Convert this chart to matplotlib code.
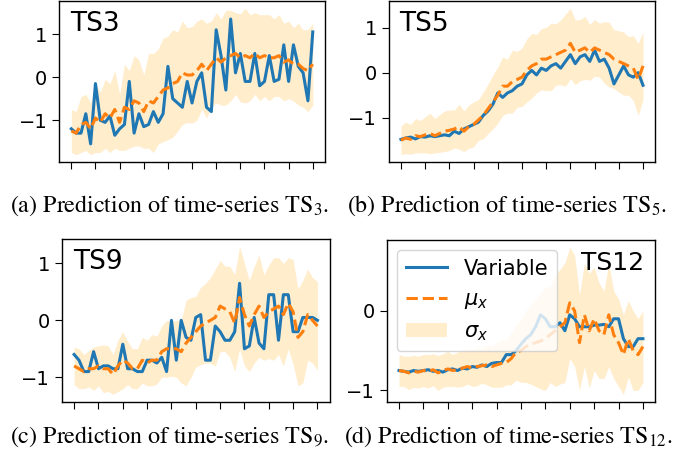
"""
plot.py
=======
Four-panel figure: predicted mean and std band against the observed
variable for four time series (TS3, TS5, TS9, TS12).
"""

import matplotlib
matplotlib.use("Agg")
import matplotlib.pyplot as plt
import numpy as np
from matplotlib.lines import Line2D
from matplotlib.patches import Patch
from matplotlib.ticker import MultipleLocator, NullFormatter

matplotlib.rcParams.update({
    "font.family": "DejaVu Sans",
    "font.size": 14,
    "axes.linewidth": 1.0,
    "xtick.major.size": 5,
    "ytick.major.size": 5,
})

VAR_COLOR = "tab:blue"
MU_COLOR = "tab:orange"
BAND_COLOR = "orange"

# ---- TS3 ----
ts3_var = [-1.2, -1.3, -1.3, -0.85, -1.55, -0.15, -1.0, -1.05, -0.9, -1.35,
           -1.2, -1.1, -0.1, -1.3, -0.85, -1.15, -1.1, -0.8, -1.05, -0.85,
           0.25, -0.5, -0.6, -0.7, -0.1, -0.6, -0.1, 0.1, -0.7, -0.8,
           1.1, 0.5, -0.3, 1.35, 0.1, 0.55, -0.1, -0.1, 0.55, -0.2,
           -0.1, 0.5, -0.1, -0.05, 0.75, -0.1, 0.75, 0.25, 0.1, -0.55, 1.05]
ts3_mu = [-1.25, -1.3, -1.1, -1.05, -1.2, -0.95, -1.05, -0.85, -0.95, -0.75,
          -1.05, -0.7, -0.75, -0.55, -0.6, -0.8, -0.55, -0.6, -0.45, -0.3,
          -0.25, -0.15, -0.1, 0.1, 0.05, 0.05, 0.15, 0.3, 0.15, 0.3,
          0.45, 0.35, 0.45, 0.5, 0.55, 0.45, 0.5, 0.45, 0.55, 0.45,
          0.5, 0.45, 0.45, 0.5, 0.35, 0.4, 0.3, 0.3, 0.2, 0.15, 0.3]
ts3_sigma = [0.5, 0.5, 0.65, 0.65, 0.6, 0.8, 0.7, 0.8, 0.8, 0.9,
             0.65, 1.0, 0.9, 1.05, 1.0, 0.85, 1.1, 1.15, 1.1, 1.2,
             1.2, 1.25, 1.15, 1.2, 1.1, 1.12, 1.15, 1.05, 1.1, 1.0,
             1.05, 1.0, 1.1, 1.05, 0.95, 1.02, 1.1, 1.0, 0.95, 1.0,
             0.95, 1.0, 0.9, 0.95, 0.9, 0.9, 0.85, 0.95, 0.9, 0.95, 0.95]

# ---- TS5 ----
ts5_var = [-1.48, -1.45, -1.43, -1.47, -1.42, -1.43, -1.4, -1.42, -1.4, -1.38,
           -1.4, -1.3, -1.35, -1.25, -1.2, -1.15, -1.1, -0.95, -0.85, -0.7,
           -0.45, -0.55, -0.45, -0.4, -0.3, -0.25, -0.05, 0.05, -0.05, 0.1,
           0.05, 0.15, 0.2, 0.1, 0.25, 0.4, 0.2, 0.35, 0.4, 0.25,
           0.5, 0.25, 0.3, 0.1, -0.25, -0.05, 0.15, -0.05, -0.1, 0.0, -0.28]
ts5_mu = [-1.5, -1.45, -1.48, -1.4, -1.42, -1.38, -1.35, -1.4, -1.35, -1.3,
          -1.28, -1.25, -1.2, -1.3, -1.2, -1.15, -1.05, -0.95, -0.8, -0.65,
          -0.5, -0.3, -0.3, -0.2, -0.15, -0.1, 0.05, 0.15, 0.2, 0.3,
          0.3, 0.35, 0.4, 0.45, 0.5, 0.65, 0.45, 0.5, 0.55, 0.45,
          0.55, 0.5, 0.45, 0.4, 0.3, 0.25, 0.2, 0.15, 0.1, -0.15, 0.15]
ts5_sigma = [0.32, 0.35, 0.33, 0.38, 0.36, 0.4, 0.45, 0.38, 0.42, 0.45,
             0.45, 0.42, 0.5, 0.45, 0.48, 0.5, 0.45, 0.52, 0.55, 0.6,
             0.62, 0.65, 0.6, 0.7, 0.62, 0.65, 0.7, 0.72, 0.65, 0.68,
             0.7, 0.75, 0.68, 0.72, 0.8, 0.78, 0.72, 0.68, 0.7, 0.62,
             0.63, 0.6, 0.68, 0.72, 0.65, 0.68, 0.7, 0.65, 0.72, 0.8, 0.75]

# ---- TS9 ----
ts9_var = [-0.6, -0.7, -0.9, -0.9, -0.55, -0.85, -0.8, -0.8, -0.85, -0.85,
           -0.42, -0.85, -0.85, -0.9, -0.9, -0.7, -0.7, -0.75, -0.65, -0.9,
           0.0, -0.7, 0.0, -0.3, -0.35, 0.05, 0.1, -0.7, -0.7, -0.1,
           -0.2, -0.35, -0.35, -0.2, 0.65, -0.5, -0.45, 0.05, -0.4, -0.5,
           0.45, 0.45, -0.35, 0.45, 0.45, -0.2, -0.2, 0.05, 0.05, 0.05, 0.0]
ts9_mu = [-0.8, -0.85, -0.9, -0.85, -0.85, -0.8, -0.85, -0.85, -0.95, -0.8,
          -0.7, -0.75, -0.85, -0.85, -0.7, -0.75, -0.7, -0.7, -0.55, -0.5,
          -0.5, -0.5, -0.55, -0.4, -0.3, -0.2, -0.1, -0.05, 0.0, 0.05,
          0.25, 0.2, 0.15, -0.05, 0.4, 0.1, -0.1, 0.1, 0.25, 0.05,
          0.15, 0.2, 0.25, 0.1, 0.3, 0.15, -0.3, -0.2, 0.1, 0.0, -0.1]
ts9_sigma = [0.33, 0.35, 0.3, 0.32, 0.38, 0.35, 0.42, 0.4, 0.35, 0.45,
             0.5, 0.38, 0.35, 0.35, 0.4, 0.4, 0.45, 0.42, 0.45, 0.5,
             0.48, 0.5, 0.55, 0.75, 0.7, 0.62, 0.68, 0.7, 0.75, 0.85,
             0.8, 0.75, 0.8, 0.85, 0.9, 0.9, 0.8, 0.85, 0.9, 0.75,
             0.82, 0.9, 0.85, 0.9, 0.8, 0.92, 0.85, 0.9, 0.8, 0.75, 0.78]

# ---- TS12 ----
ts12_var = [-0.75, -0.76, -0.77, -0.75, -0.76, -0.75, -0.74, -0.76, -0.75, -0.77,
            -0.74, -0.73, -0.75, -0.72, -0.73, -0.7, -0.71, -0.68, -0.7, -0.66,
            -0.65, -0.65, -0.55, -0.55, -0.5, -0.42, -0.35, -0.3, -0.2, -0.05,
            -0.1, -0.2, -0.2, -0.15, -0.25, -0.05, -0.1, -0.2, -0.2, -0.2,
            -0.18, -0.18, -0.17, -0.2, -0.1, -0.1, -0.35, -0.45, -0.45, -0.35, -0.35]
ts12_mu = [-0.75, -0.76, -0.78, -0.76, -0.77, -0.75, -0.76, -0.74, -0.78, -0.75,
           -0.73, -0.75, -0.74, -0.72, -0.7, -0.72, -0.7, -0.69, -0.68, -0.7,
           -0.68, -0.66, -0.65, -0.6, -0.52, -0.5, -0.45, -0.42, -0.4, -0.38,
           -0.35, -0.3, -0.25, -0.2, -0.15, 0.1, 0.0, -0.4, -0.05, -0.25,
           -0.1, -0.25, -0.3, -0.05, -0.3, -0.4, -0.55, -0.35, -0.5, -0.55, -0.45]
ts12_sigma = [0.2, 0.19, 0.21, 0.2, 0.2, 0.2, 0.21, 0.2, 0.22, 0.21,
              0.22, 0.2, 0.22, 0.23, 0.22, 0.23, 0.24, 0.22, 0.25, 0.26,
              0.28, 0.3, 0.28, 0.33, 0.35, 0.4, 0.45, 0.5, 0.55, 0.6,
              0.65, 0.6, 0.7, 0.72, 0.75, 0.7, 0.7, 0.6, 0.65, 0.72,
              0.65, 0.6, 0.55, 0.65, 0.55, 0.55, 0.5, 0.48, 0.5, 0.45, 0.45]

names = ["TS3", "TS5", "TS9", "TS12"]
captions = [
    "(a) Prediction of time-series TS$_3$.",
    "(b) Prediction of time-series TS$_5$.",
    "(c) Prediction of time-series TS$_9$.",
    "(d) Prediction of time-series TS$_{12}$.",
]
series = [
    (ts3_var, ts3_mu, ts3_sigma),
    (ts5_var, ts5_mu, ts5_sigma),
    (ts9_var, ts9_mu, ts9_sigma),
    (ts12_var, ts12_mu, ts12_sigma),
]

# axes boxes [left, bottom, width, height] in figure fraction
boxes = [
    [0.087, 0.644, 0.390, 0.354],
    [0.571, 0.644, 0.391, 0.354],
    [0.091, 0.117, 0.393, 0.358],
    [0.568, 0.117, 0.394, 0.356],
]
caption_pos = [(0.249, 0.547), (0.745, 0.547), (0.249, 0.040), (0.747, 0.040)]

fig = plt.figure(figsize=(6.81, 4.55), dpi=100)

for k, (name, (var, mu, sigma)) in enumerate(zip(names, series)):
    ax = fig.add_axes(boxes[k])
    var = np.asarray(var)
    mu = np.asarray(mu)
    sigma = np.asarray(sigma)
    t = np.arange(len(mu))

    ax.fill_between(t, mu - sigma, mu + sigma, color=BAND_COLOR, alpha=0.2,
                    linewidth=0)
    ax.plot(t, var, color=VAR_COLOR, linewidth=2.2)
    ax.plot(t, mu, "--", color=MU_COLOR, linewidth=2.2)

    ax.xaxis.set_major_locator(MultipleLocator(5))
    ax.xaxis.set_major_formatter(NullFormatter())
    ax.yaxis.set_major_locator(MultipleLocator(1))

    if name == "TS12":
        ax.text(0.96, 0.93, name, transform=ax.transAxes, ha="right", va="top",
                fontsize=18)
        handles = [
            Line2D([], [], color=VAR_COLOR, linewidth=2.2),
            Line2D([], [], color=MU_COLOR, linewidth=2.2, linestyle="--"),
            Patch(facecolor=BAND_COLOR, alpha=0.2, edgecolor="none"),
        ]
        ax.legend(handles, ["Variable", r"$\mu_x$", r"$\sigma_x$"],
                  loc="upper left", fontsize=15)
    else:
        ax.text(0.04, 0.94, name, transform=ax.transAxes, ha="left", va="top",
                fontsize=19)

    fig.text(*caption_pos[k], captions[k], ha="center", va="center",
             family="STIXGeneral", math_fontfamily="stix", fontsize=17.3)

fig.savefig("out.png", dpi=100)
